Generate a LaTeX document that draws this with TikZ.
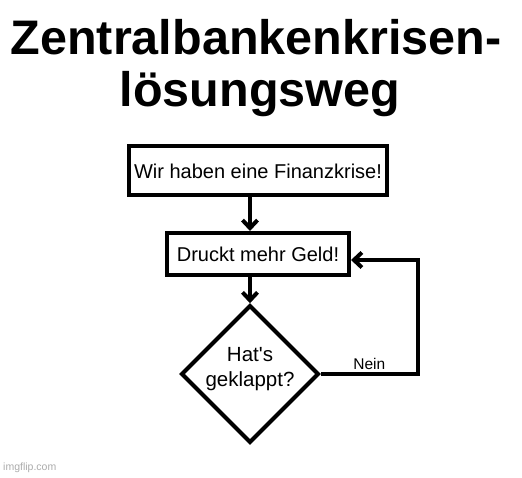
\documentclass[tikz,border=0pt]{standalone}
\usepackage{fontspec}
\setmainfont{Liberation Sans}
\usetikzlibrary{arrows.meta, positioning, calc, shapes.geometric}

\newcommand{\lifted}[1]{\raisebox{5pt}[\height][\depth]{#1}}

\begin{document}
\begin{tikzpicture}[
  x=1pt, y=-1pt,
  block/.style = {draw, line width=4pt, inner sep=0pt, align=center,
                  font=\fontsize{20}{24}\selectfont},
  decision/.style = {draw, diamond, line width=4pt, inner sep=0pt,
                     minimum width=130pt, minimum height=132pt,
                     font=\fontsize{20.5}{24.3}\selectfont},
  title/.style = {anchor=base, inner sep=0pt, font=\bfseries\fontsize{48.5}{52}\selectfont},
  arrow/.style = {line width=4pt, -{Straight Barb[length=8pt, width=15pt]}}
]
\useasboundingbox (0,0) rectangle (522,478);

% ======================================================
% Title
% ======================================================
\node[title] (title1) at (256,55) {Zentralbankenkrisen-};
\node[title] (title2) at (260,106.7) {lösungsweg};

% ======================================================
% Flow chart
% ======================================================
\node[block, minimum width=258pt, minimum height=49pt] (krise) at (258,171) {Wir haben eine Finanzkrise!};
\node[block, minimum width=182pt, minimum height=42pt] (drucken) at (258,254) {Druckt mehr Geld!};
\node[decision] (geklappt) at (250,374) {\lifted{\begin{tabular}{@{}c@{}}Hat\textquotesingle s\\geklappt?\end{tabular}}};

% down arrows
\draw[arrow] (krise.south -| geklappt.north) -- (drucken.north -| geklappt.north);
\draw[arrow] (drucken.south -| geklappt.north) -- (geklappt.north);

% Nein loop back to Druckt mehr Geld!
\coordinate (loop_corner) at ($(geklappt.east)+(97,0)$);
\draw[arrow] (geklappt.east) -- node[above=2pt, inner sep=0pt, font=\fontsize{15.5}{18}\selectfont] (nein) {Nein} (loop_corner)
  |- ($(drucken.east)+(0,6)$);

% watermark
\node[anchor=base west, inner sep=0pt, text=black!33, font=\fontsize{10.5}{12}\selectfont] (wasserzeichen) at (3,470) {imgflip.com};
\end{tikzpicture}
\end{document}
